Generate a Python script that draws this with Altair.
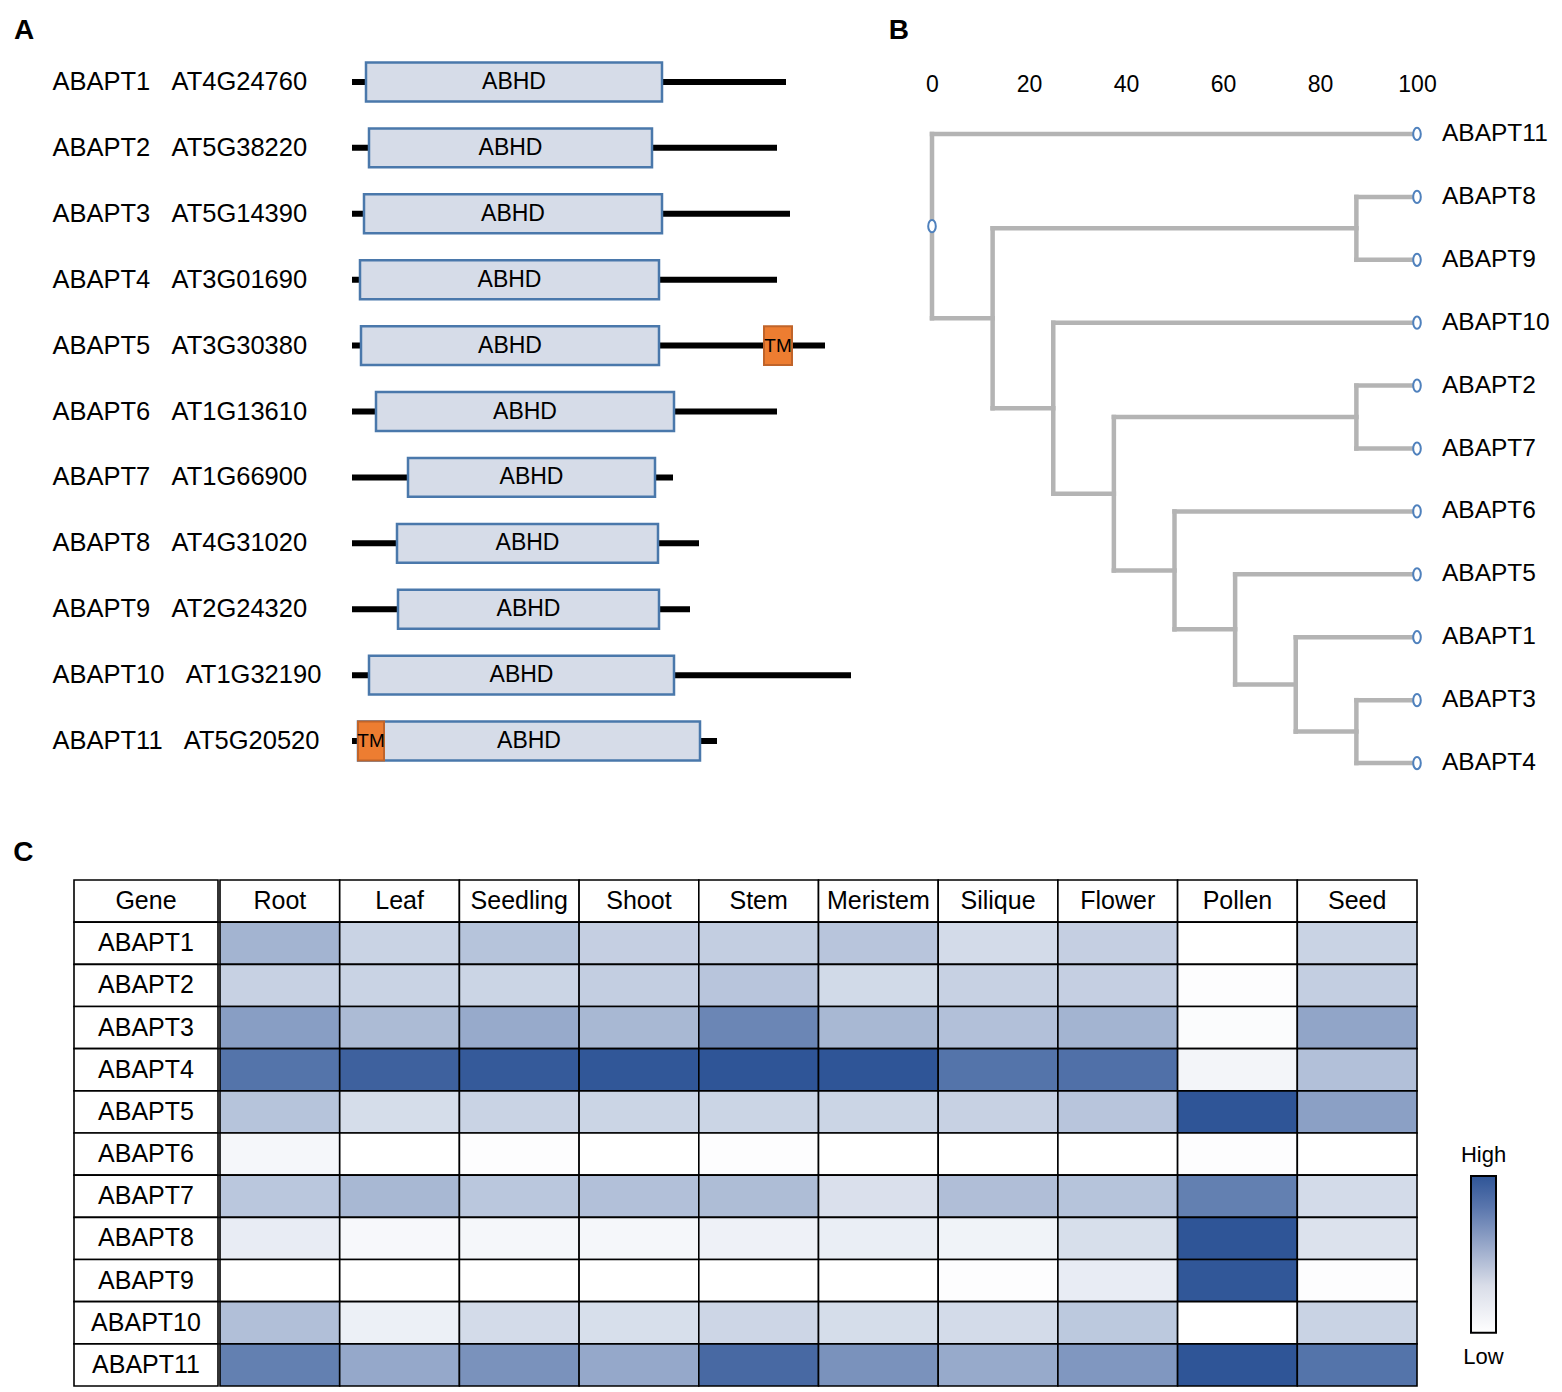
import altair as alt
import pandas as pd

FONT = "Liberation Sans"

# ---------------- Panel A : domain architecture ----------------
genes = ["ABAPT1", "ABAPT2", "ABAPT3", "ABAPT4", "ABAPT5", "ABAPT6",
         "ABAPT7", "ABAPT8", "ABAPT9", "ABAPT10", "ABAPT11"]
loci = ["AT4G24760", "AT5G38220", "AT5G14390", "AT3G01690", "AT3G30380",
        "AT1G13610", "AT1G66900", "AT4G31020", "AT2G24320", "AT1G32190",
        "AT5G20520"]
protein_len = [434, 425, 438, 425, 473, 425, 321, 347, 338, 499, 365]
abhd_start = [14, 17, 12, 8, 9, 24, 56, 45, 46, 17, 6]
abhd_end = [310, 300, 310, 307, 307, 322, 303, 306, 307, 322, 348]
tm_gene = ["ABAPT5", "ABAPT11"]
tm_start = [412, 6]
tm_end = [440, 32]

# ---------------- Panel B : dendrogram ----------------
# (position from root, [children]); leaves sit at 100
tree = (0, ["ABAPT11",
            (12.5, [(87.5, ["ABAPT8", "ABAPT9"]),
                    (25, ["ABAPT10",
                          (37.5, [(87.5, ["ABAPT2", "ABAPT7"]),
                                  (50, ["ABAPT6",
                                        (62.5, ["ABAPT5",
                                                (75, ["ABAPT1",
                                                      (87.5, ["ABAPT3", "ABAPT4"])])])])])])])])
leaf_pos = 100
axis_ticks = [0, 20, 40, 60, 80, 100]

# ---------------- Panel C : expression heatmap ----------------
tissues = ["Root", "Leaf", "Seedling", "Shoot", "Stem", "Meristem",
           "Silique", "Flower", "Pollen", "Seed"]
expr_ABAPT1 = [0.44, 0.26, 0.35, 0.28, 0.29, 0.34, 0.21, 0.28, 0.00, 0.26]
expr_ABAPT2 = [0.27, 0.26, 0.25, 0.29, 0.34, 0.22, 0.27, 0.28, 0.01, 0.29]
expr_ABAPT3 = [0.57, 0.40, 0.50, 0.42, 0.71, 0.42, 0.37, 0.44, 0.02, 0.53]
expr_ABAPT4 = [0.82, 0.93, 0.97, 0.99, 1.00, 1.00, 0.82, 0.84, 0.06, 0.37]
expr_ABAPT5 = [0.35, 0.20, 0.26, 0.25, 0.25, 0.25, 0.27, 0.34, 1.00, 0.56]
expr_ABAPT6 = [0.05, 0.00, 0.01, 0.00, 0.01, 0.00, 0.00, 0.00, 0.01, 0.00]
expr_ABAPT7 = [0.33, 0.42, 0.33, 0.37, 0.39, 0.18, 0.38, 0.35, 0.75, 0.21]
expr_ABAPT8 = [0.11, 0.04, 0.05, 0.05, 0.08, 0.10, 0.07, 0.19, 1.00, 0.17]
expr_ABAPT9 = [0.00, 0.00, 0.00, 0.00, 0.00, 0.00, 0.01, 0.11, 0.99, 0.01]
expr_ABAPT10 = [0.375, 0.09, 0.21, 0.19, 0.24, 0.20, 0.21, 0.32, 0.00, 0.26]
expr_ABAPT11 = [0.75, 0.51, 0.64, 0.51, 0.88, 0.64, 0.50, 0.61, 1.00, 0.82]
expr_rows = [expr_ABAPT1, expr_ABAPT2, expr_ABAPT3, expr_ABAPT4, expr_ABAPT5,
             expr_ABAPT6, expr_ABAPT7, expr_ABAPT8, expr_ABAPT9, expr_ABAPT10,
             expr_ABAPT11]
legend_labels = ["Low", "High"]
legend_levels = [0, 1]

LOW_COLOR = "#ffffff"
HIGH_COLOR = "#2f5597"

# ================= Panel A =================
labels = [f"{g}\u00a0\u00a0\u00a0{l}" for g, l in zip(genes, loci)]
dfA = pd.DataFrame({"label": labels, "start": [0] * len(genes), "len": protein_len,
                    "b0": abhd_start, "b1": abhd_end})
dfTM = pd.DataFrame({"label": [labels[genes.index(g)] for g in tm_gene],
                     "t0": tm_start, "t1": tm_end})

xA_scale = alt.Scale(domain=[-278, 510], nice=False, zero=False)
yA = alt.Y("label:N", sort=labels,
           scale=alt.Scale(paddingInner=0.41, paddingOuter=0.205),
           axis=alt.Axis(title=None, domain=False, ticks=False, tickSize=0,
                         labelAlign="left", labelPadding=22, labelFontSize=25.5,
                         labelFont=FONT, labelColor="black", labelLimit=500))

baseA = alt.Chart(dfA)
linesA = baseA.mark_rule(strokeWidth=6, color="black").encode(
    x=alt.X("start:Q", scale=xA_scale, axis=None), x2="len:Q", y=yA)
boxA = baseA.mark_rect(fill="#d6dce8", stroke="#4a78ab", strokeWidth=2.5).encode(
    x=alt.X("b0:Q", scale=xA_scale, axis=None), x2="b1:Q", y=yA)
boxTextA = baseA.transform_calculate(mid="(datum.b0 + datum.b1) / 2").mark_text(
    text="ABHD", fontSize=23, font=FONT, color="black").encode(
    x=alt.X("mid:Q", scale=xA_scale, axis=None), y=yA)
tmA = alt.Chart(dfTM).mark_rect(fill="#ed7d31", stroke="#c0642a", strokeWidth=2).encode(
    x=alt.X("t0:Q", scale=xA_scale, axis=None), x2="t1:Q", y=yA)
tmTextA = alt.Chart(dfTM).transform_calculate(mid="(datum.t0 + datum.t1) / 2").mark_text(
    text="TM", fontSize=19, font=FONT, color="black").encode(
    x=alt.X("mid:Q", scale=xA_scale, axis=None), y=yA)

panelA = alt.layer(linesA, boxA, boxTextA, tmA, tmTextA).properties(
    width=788, height=725,
    title=alt.TitleParams("A", anchor="start", frame="bounds", fontSize=28,
                          fontWeight="bold", font=FONT, color="black",
                          dx=-38, offset=-18, baseline="alphabetic"))

# ================= Panel B =================
segments = []
leaves = []


def walk(node):
    if isinstance(node, str):
        idx = len(leaves)
        leaves.append(node)
        return leaf_pos, idx
    pos, children = node
    pts = [walk(c) for c in children]
    ys = [p[1] for p in pts]
    for cx, cy in pts:
        segments.append({"x": pos, "x2": cx, "y": cy, "y2": cy})
    segments.append({"x": pos, "x2": pos, "y": min(ys), "y2": max(ys)})
    return pos, (min(ys) + max(ys)) / 2


root_x, root_y = walk(tree)
dfSeg = pd.DataFrame(segments)
dfLeaf = pd.DataFrame({"name": leaves, "x": [leaf_pos] * len(leaves),
                       "y": list(range(len(leaves)))})
dfNodes = pd.concat([dfLeaf[["x", "y"]], pd.DataFrame({"x": [root_x], "y": [root_y]})])

xB_scale = alt.Scale(domain=[0, 100], nice=False, zero=False)
yB_scale = alt.Scale(domain=[-1.351, len(leaves) - 0.5], reverse=True, nice=False, zero=False)
xB_axis = alt.Axis(orient="top", values=axis_ticks, title=None, domain=False, ticks=False,
                   tickSize=0, grid=False, labelFontSize=23, labelFont=FONT,
                   labelColor="black", labelPadding=6, labelFlush=False, offset=-53.5)

segB = alt.Chart(dfSeg).mark_rule(color="#b4b4b4", strokeWidth=4.5, strokeCap="square").encode(
    x=alt.X("x:Q", scale=xB_scale, axis=xB_axis), x2="x2:Q",
    y=alt.Y("y:Q", scale=yB_scale, axis=None), y2="y2:Q")
ellipse = "M-0.62,0 A0.62,1 0 1,0 0.62,0 A0.62,1 0 1,0 -0.62,0 Z"
nodeB = alt.Chart(dfNodes).mark_point(shape=ellipse, size=150, filled=True, fill="white",
                                      stroke="#4f81bd", strokeWidth=2, opacity=1).encode(
    x=alt.X("x:Q", scale=xB_scale), y=alt.Y("y:Q", scale=yB_scale))
textB = alt.Chart(dfLeaf).mark_text(align="left", baseline="middle", dx=25, fontSize=24.5,
                                    font=FONT, color="black").encode(
    x=alt.X("x:Q", scale=xB_scale), y=alt.Y("y:Q", scale=yB_scale), text="name:N")

panelB = alt.layer(segB, nodeB, textB).properties(
    width=485, height=745.5,
    title=alt.TitleParams("B", anchor="start", frame="bounds", fontSize=28,
                          fontWeight="bold", font=FONT, color="black",
                          dx=-35.5, offset=-18, baseline="alphabetic"))

# ================= Panel C =================
rows = ["Gene"] + genes
long = pd.DataFrame([{"row": g, "tissue": t, "value": v}
                     for g, vals in zip(genes, expr_rows) for t, v in zip(tissues, vals)])
hdr = pd.DataFrame({"row": ["Gene"] * len(tissues), "tissue": tissues})

Y_C = alt.Y("row:N", sort=rows, scale=alt.Scale(paddingInner=0, paddingOuter=0), axis=None)
X_C = alt.X("tissue:N", sort=tissues, scale=alt.Scale(paddingInner=0, paddingOuter=0), axis=None)
STROKE_W = 1.6

cells = alt.Chart(long).mark_rect(stroke="black", strokeWidth=STROKE_W).encode(
    x=X_C, y=Y_C,
    color=alt.Color("value:Q", legend=None,
                    scale=alt.Scale(domain=[0, 1], range=[LOW_COLOR, HIGH_COLOR],
                                    interpolate="rgb")))
hdrRect = alt.Chart(hdr).mark_rect(fill="white", stroke="black", strokeWidth=STROKE_W).encode(
    x=X_C, y=Y_C)
hdrText = alt.Chart(hdr).mark_text(fontSize=25, font=FONT, color="black").encode(
    x=X_C, y=Y_C, text="tissue:N")
heat = alt.layer(hdrRect, cells, hdrText).properties(width=1197, height=506)

gdf = pd.DataFrame({"row": rows, "col": ["Gene"] * len(rows)})
X_G = alt.X("col:N", scale=alt.Scale(paddingInner=0, paddingOuter=0), axis=None)
geneRect = alt.Chart(gdf).mark_rect(fill="white", stroke="black", strokeWidth=STROKE_W).encode(
    x=X_G, y=Y_C)
geneText = alt.Chart(gdf).mark_text(fontSize=25, font=FONT, color="black").encode(
    x=X_G, y=Y_C, text="row:N")
geneCol = alt.layer(geneRect, geneText).properties(width=144, height=506)

# legend panel
dfLeg = pd.DataFrame({"label": legend_labels, "level": legend_levels})
yL_scale = alt.Scale(domain=[-0.339, 2.887], nice=False, zero=False)
grad = alt.LinearGradient(gradient="linear",
                          stops=[alt.GradientStop(color=HIGH_COLOR, offset=0),
                                 alt.GradientStop(color="#5a76ad", offset=0.2),
                                 alt.GradientStop(color="#d9dde8", offset=0.7),
                                 alt.GradientStop(color=LOW_COLOR, offset=1)],
                          x1=0, x2=0, y1=0, y2=1)
legBar = alt.Chart(dfLeg).transform_aggregate(lo="min(level)", hi="max(level)").transform_calculate(
    col="'bar'").mark_rect(fill=grad, stroke="black", strokeWidth=2).encode(
    x=alt.X("col:N", scale=alt.Scale(paddingInner=0, paddingOuter=0), axis=None),
    y=alt.Y("lo:Q", scale=yL_scale, axis=None), y2="hi:Q")
legHigh = alt.Chart(dfLeg).transform_filter("datum.level == 1").mark_text(
    fontSize=22, font=FONT, color="black", baseline="middle", dy=-21).encode(
    y=alt.Y("level:Q", scale=yL_scale, axis=None), text="label:N")
legLow = alt.Chart(dfLeg).transform_filter("datum.level == 0").mark_text(
    fontSize=22, font=FONT, color="black", baseline="middle", dy=24).encode(
    y=alt.Y("level:Q", scale=yL_scale, axis=None), text="label:N")
legend = alt.layer(legBar, legHigh, legLow).properties(width=25, height=506)

row2 = alt.hconcat(alt.hconcat(geneCol, heat, spacing=0), legend, spacing=42,
                   title=alt.TitleParams("C", anchor="start", frame="bounds", fontSize=28,
                                         fontWeight="bold", font=FONT, color="black",
                                         dx=-60, offset=-10, baseline="alphabetic"))
row1 = alt.hconcat(panelA, panelB, spacing=26)

chart = alt.vconcat(row1, row2, spacing=44).properties(
    padding={"left": 5, "top": 9, "right": 0, "bottom": 0}
).configure(font=FONT).configure_view(strokeWidth=0)

chart.save("out.html", embed_options={"renderer": "svg", "actions": False})
